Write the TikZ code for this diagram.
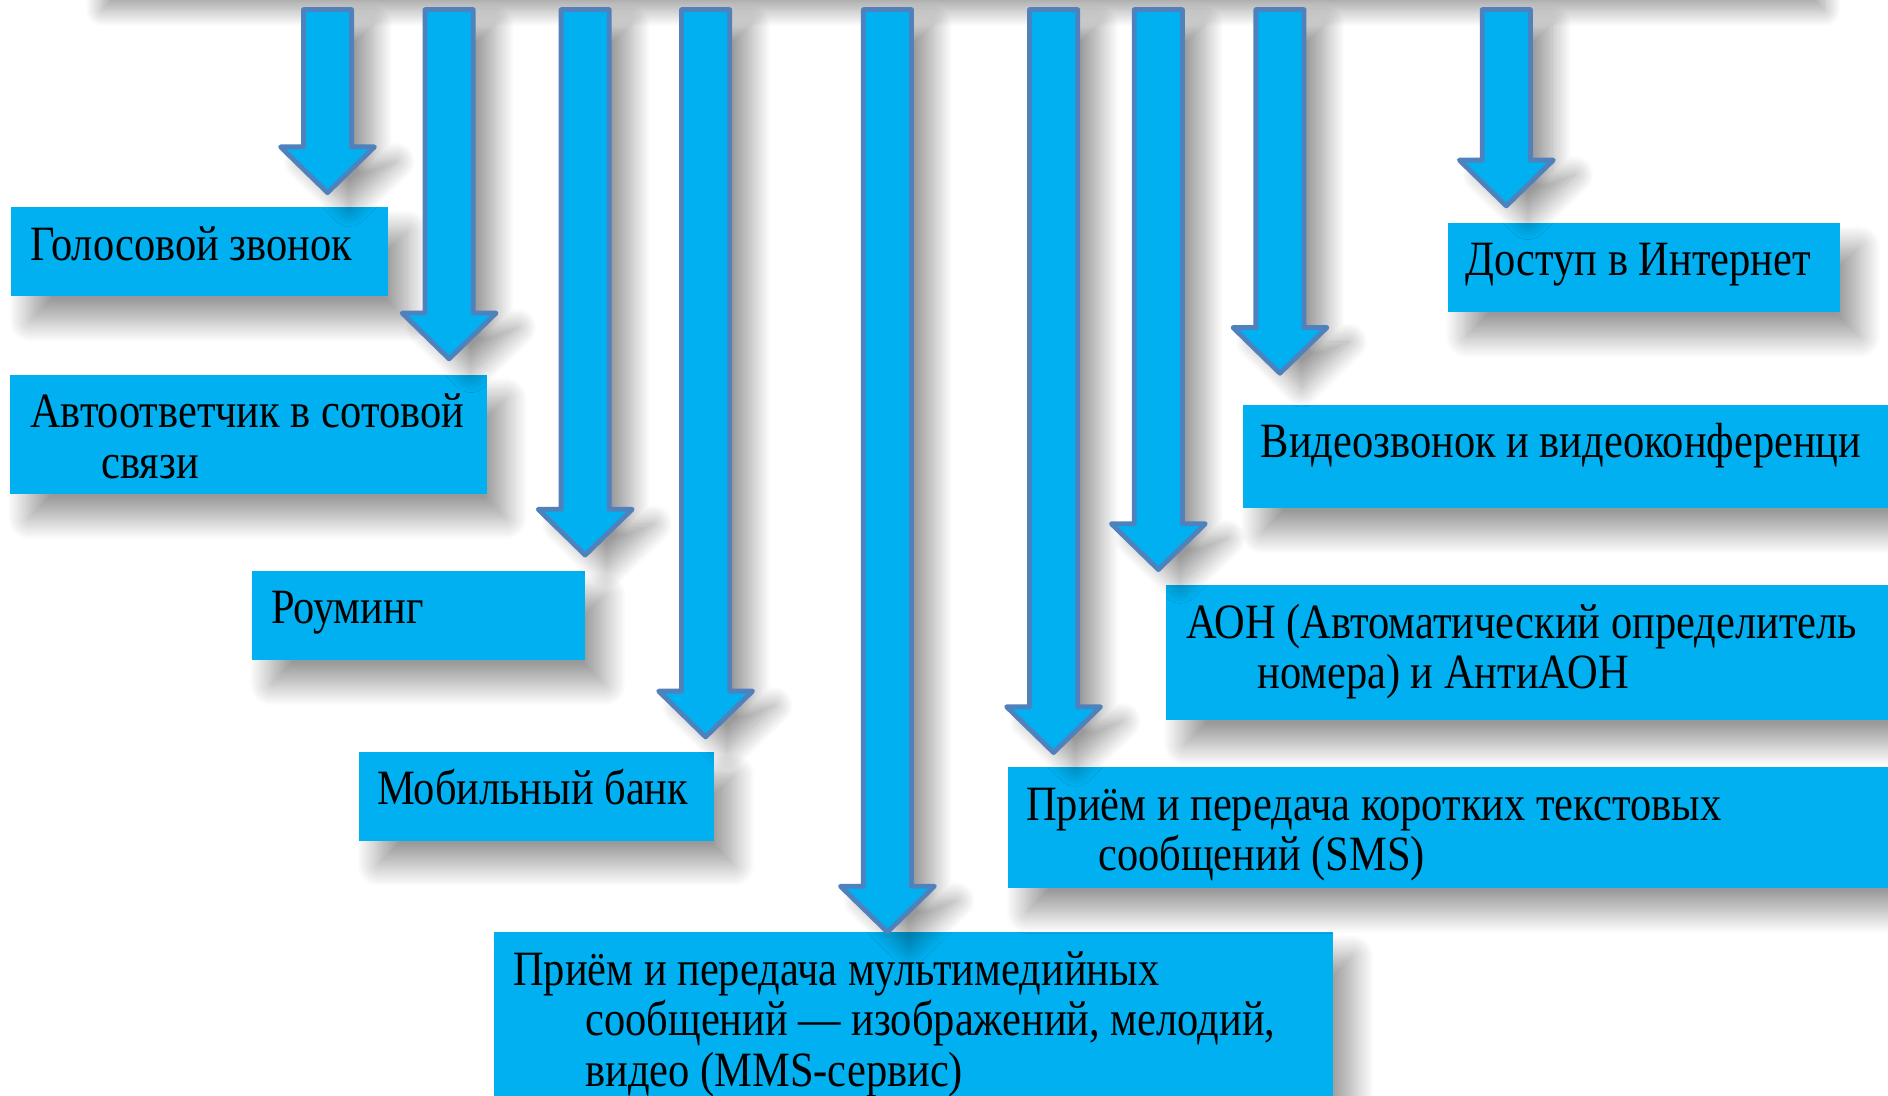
\documentclass[tikz,border=0pt]{standalone}
\usepackage{fontspec}
\setmainfont{Liberation Serif}[FakeStretch=0.86]
\usetikzlibrary{calc,shadows.blur}
\definecolor{boxcyan}{RGB}{0,176,240}
\definecolor{arrowrim}{RGB}{79,129,189}
\tikzset{
  servicebox/.style={fill=boxcyan, inner sep=0pt, anchor=north west,
    blur shadow={shadow xshift=16pt, shadow yshift=-20pt, shadow blur radius=18pt,
      shadow blur steps=24, shadow opacity=40}},
  servicetext/.style={anchor=north west, inner sep=0pt, align=left,
    font=\fontsize{41}{42}\selectfont},
  blockarrow/.style={fill=boxcyan, draw=arrowrim, line width=4pt, line join=round,
    blur shadow={shadow xshift=18pt, shadow yshift=-12pt, shadow blur radius=16pt,
      shadow blur steps=24, shadow opacity=40}}
}
\newcommand\firstline{\rule{0pt}{36pt}}
\begin{document}
\begin{tikzpicture}[x=1pt,y=-1pt]
  \useasboundingbox (0,0) rectangle (1568,910);
  \clip (0,0) rectangle (1568,910);
  % shadow of the header above the frame
  \path[blur shadow={shadow xshift=0pt, shadow yshift=-10pt, shadow blur radius=14pt,
      shadow blur steps=24, shadow opacity=40}]
    (85,-120) rectangle (1515,-2);
  % service boxes
  \node[servicebox, minimum width=313pt, minimum height=74pt] (voice) at (9,172) {};
  \node[servicebox, minimum width=396pt, minimum height=99pt] (answer) at (8,311) {};
  \node[servicebox, minimum width=277pt, minimum height=74pt] (roaming) at (209,474) {};
  \node[servicebox, minimum width=295pt, minimum height=74pt] (bank) at (298,624) {};
  \node[servicebox, minimum width=697pt, minimum height=160pt] (mms) at (410,774) {};
  \node[servicebox, minimum width=763pt, minimum height=100pt] (sms) at (837,637) {};
  \node[servicebox, minimum width=632pt, minimum height=112pt] (callerid) at (968,486) {};
  \node[servicebox, minimum width=568pt, minimum height=86pt] (video) at (1032,336) {};
  \node[servicebox, minimum width=326pt, minimum height=74pt] (web) at (1202,185) {};
  % texts
  \node[servicetext] (voicetxt) at ($(voice.north west)+(16,8)$) {\firstline Голосовой звонок};
  \node[servicetext] (answertxt) at ($(answer.north west)+(17,8)$)
    {\firstline Автоответчик в сотовой\\\hspace*{59pt}связи};
  \node[servicetext] (roamingtxt) at ($(roaming.north west)+(16,8)$) {\firstline Роуминг};
  \node[servicetext] (banktxt) at ($(bank.north west)+(15,8)$) {\firstline Мобильный банк};
  \node[servicetext] (mmstxt) at ($(mms.north west)+(16,8)$)
    {\firstline Приём и передача мультимедийных\\\hspace*{60pt}сообщений — изображений, мелодий,\\\hspace*{60pt}видео (MMS-сервис)};
  \node[servicetext] (smstxt) at ($(sms.north west)+(15,8)$)
    {\firstline Приём и передача коротких текстовых\\\hspace*{60pt}сообщений (SMS)};
  \node[servicetext] (calleridtxt) at ($(callerid.north west)+(17,8)$)
    {\firstline АОН (Автоматический определитель\\\hspace*{59pt}номера) и АнтиАОН};
  \node[servicetext] (videotxt) at ($(video.north west)+(15,8)$) {\firstline Видеозвонок и видеоконференци};
  \node[servicetext] (webtxt) at ($(web.north west)+(15,8)$) {\firstline Доступ в Интернет};
  % arrows from the header
  \foreach \cx/\tip [count=\i] in {272/160, 373/298, 486/461, 586/612, 737/774,
                                    875/625, 962/473, 1063/310, 1251/171} {
    \coordinate (top\i) at (\cx,8);
    \coordinate (tip\i) at (\cx,\tip);
    \draw[blockarrow] ($(top\i)+(-20,0)$) -- ($(top\i)+(20,0)$) -- ($(tip\i)+(20,-38)$)
      -- ($(tip\i)+(39,-38)$) -- (tip\i) -- ($(tip\i)+(-39,-38)$) -- ($(tip\i)+(-20,-38)$) -- cycle;
  }
\end{tikzpicture}
\end{document}
